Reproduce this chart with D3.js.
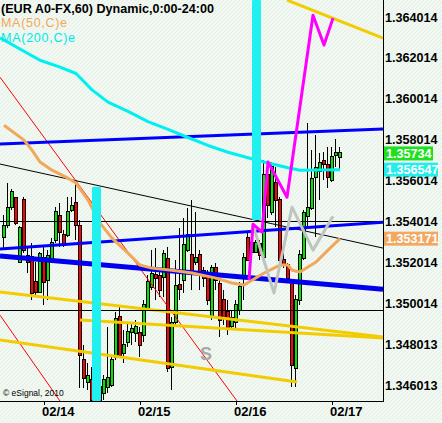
<!DOCTYPE html>
<html><head><meta charset="utf-8">
<script src="https://cdn.jsdelivr.net/npm/d3@7"></script>
<style>
html,body{margin:0;padding:0;background:#f2f8f3;}
svg{display:block;}
text{font-family:"Liberation Sans",Arial,sans-serif;}
</style></head><body>
<svg id="c" width="442" height="423"></svg>
<script>
// ---------- data ----------
const title = "(EUR A0-FX,60) Dynamic,0:00-24:00";
const firstHour = -10;           // hours relative to 02/14 00:00
const opens  = [1.35325,1.35383,1.35471,1.35515,1.35203,1.35506,1.35232,1.35227,1.35105,1.35056,1.35222,1.35114,1.35222,1.35310,1.35427,1.35335,1.35335,1.35457,1.35491,1.35379,1.34723,1.34616,1.34625,1.34528,1.34528,1.34562,1.34591,1.34601,1.34738,1.34934,1.34758,1.34811,1.34860,1.34855,1.34855,1.34846,1.34978,1.35080,1.35139,1.35134,1.35129,1.35217,1.34689,1.34909,1.35090,1.35114,1.35261,1.35237,1.35203,1.35237,1.35158,1.35124,1.34934,1.35173,1.35095,1.35017,1.34958,1.34889,1.34909,1.34968,1.35129,1.35320,1.35251,1.35251,1.35290,1.35227,1.35628,1.35447,1.35589,1.35506,1.35212,1.35188,1.35105,1.34684,1.35017,1.35222,1.35427,1.35467,1.35618,1.35648,1.35696,1.35677,1.35604,1.35736,1.35716];
const highs  = [1.35432,1.35589,1.35559,1.35520,1.35379,1.35520,1.35276,1.35295,1.35203,1.35251,1.35276,1.35261,1.35320,1.35471,1.35491,1.35359,1.35520,1.35520,1.35589,1.35408,1.34797,1.34709,1.34689,1.34645,1.34640,1.34650,1.34885,1.34748,1.34958,1.34992,1.34870,1.34909,1.34904,1.34919,1.34885,1.35017,1.35139,1.35261,1.35271,1.35163,1.35261,1.35276,1.34934,1.35212,1.35369,1.35418,1.35467,1.35506,1.35447,1.35261,1.35178,1.35163,1.35188,1.35198,1.35114,1.35066,1.35017,1.34968,1.35017,1.35105,1.35246,1.35344,1.35325,1.35310,1.35310,1.35701,1.35677,1.35692,1.35667,1.35520,1.35261,1.35198,1.35114,1.35041,1.35261,1.35457,1.35882,1.35750,1.35824,1.35736,1.35740,1.35765,1.35765,1.35804,1.35765];
const lows   = [1.35261,1.35369,1.35457,1.35383,1.35198,1.35246,1.35149,1.35017,1.35031,1.35051,1.34992,1.35017,1.35212,1.35295,1.35276,1.35276,1.35325,1.35447,1.35310,1.34586,1.34586,1.34577,1.34503,1.34503,1.34523,1.34528,1.34562,1.34591,1.34723,1.34738,1.34709,1.34787,1.34797,1.34811,1.34738,1.34811,1.34968,1.35066,1.35017,1.35031,1.35031,1.34665,1.34577,1.34894,1.35017,1.35051,1.35251,1.35066,1.35188,1.35066,1.35080,1.34992,1.34919,1.35066,1.34836,1.34894,1.34846,1.34870,1.34870,1.34943,1.35017,1.35212,1.35227,1.35246,1.35212,1.35227,1.35418,1.35432,1.35374,1.35188,1.35173,1.35100,1.34591,1.34591,1.34992,1.35212,1.35374,1.35457,1.35325,1.35506,1.35604,1.35564,1.35594,1.35667,1.35652];
const closes = [1.35379,1.35467,1.35545,1.35393,1.35369,1.35261,1.35203,1.35051,1.35056,1.35242,1.35105,1.35232,1.35295,1.35447,1.35349,1.35286,1.35447,1.35476,1.35383,1.34748,1.34635,1.34645,1.34528,1.34600,1.34591,1.34625,1.34635,1.34723,1.34924,1.34748,1.34797,1.34860,1.34875,1.34885,1.34797,1.34992,1.35105,1.35144,1.35124,1.35066,1.35242,1.34684,1.34904,1.35085,1.35070,1.35286,1.35335,1.35154,1.35222,1.35154,1.35124,1.35017,1.35173,1.35114,1.34919,1.34929,1.34885,1.34929,1.34992,1.35080,1.35222,1.35212,1.35295,1.35295,1.35237,1.35628,1.35481,1.35667,1.35506,1.35212,1.35188,1.35124,1.34699,1.35017,1.35237,1.35442,1.35467,1.35608,1.35662,1.35687,1.35682,1.35618,1.35716,1.35736,1.35734];

// moving averages, sampled [hour, value]
const ma200 = [[-11,1.36300],[-1,1.36190],[4,1.36156],[8,1.36125],[12,1.36045],[16,1.35985],[21,1.35940],[26,1.35890],[31,1.35852],[36,1.35812],[41,1.35773],[46,1.35740],[51,1.35713],[55,1.35692],[61,1.35664],[64,1.35652],[74,1.356547]];
const ma50  = [[-10,1.35872],[-5,1.35799],[-3,1.35750],[-1,1.35692],[2,1.35652],[6,1.35613],[8,1.35589],[11,1.35506],[14,1.35393],[17,1.35320],[21,1.35246],[24,1.35188],[27,1.35173],[32,1.35163],[37,1.35149],[43,1.35124],[47,1.35100],[50,1.35090],[52,1.35114],[55,1.35149],[59,1.35188],[61,1.35188],[62,1.35163],[64,1.35154],[68,1.35203],[71,1.35261],[74,1.353171]];

// drawn trend lines, endpoints [hour, price]
const yellowTop  = [[60.75,1.36484],[84.75,1.36298]];
const yellowA    = [[-11,1.35056],[84.75,1.34836]];
const yellowB    = [[9,1.34919],[84.75,1.34831]];
const yellowC    = [[-11,1.34821],[63.25,1.34616]];
const blueUpper  = [[-11,1.35780],[84.75,1.35853]];
const blueMid    = [[-11,1.35266],[84.75,1.35398]];
const blueLow    = [[-11,1.35232],[84.75,1.35070]];
const blackDesc  = [[-11,1.35682],[84.75,1.35271]];
const blackLevels = [1.35403, 1.34968];
const redA       = [[-11,1.36107],[48.25,1.34523]];
const redB       = [[-11,1.34943],[4,1.34523]];
const waveMagenta = [[51.25,1.35114],[52.25,1.35388],[54.5,1.35349],[56,1.35692],[60.75,1.35520],[67.25,1.36410],[70,1.36264],[72.25,1.36396]];
const waveGray    = [[52.25,1.35383],[57.5,1.35051],[62,1.35471],[67.25,1.35261],[72.25,1.35427]];
const cycleBars  = [{hour:13, top:1.35570, bottom:null},{hour:53, top:null, bottom:1.35408}];

// axes
const priceTicks = [1.346013,1.348013,1.350014,1.352014,1.354014,1.356014,1.358014,1.360014,1.362014,1.364014];
const priceTickLabels = ["1.346013","1.348013","1.350014","1.352014","1.354014","1.356014","1.358014","1.360014","1.362014","1.364014"];
const dayHours = [0,24,48,72];
const dayLabels = ["02/14","02/15","02/16","02/17"];
const lastLabels = [{value:1.35734,text:"1.35734",color:"#1ee01e",w:49},{value:1.356547,text:"1.356547",color:"#22eeee",w:54},{value:1.353171,text:"1.353171",color:"#f2a860",w:54}];

// ---------- drawing ----------
const svg = d3.select("#c");
const PW = 383, PH = 401;
const y = d3.scaleLinear().domain([1.346013,1.364014]).range([385,17]);
const x = d3.scaleLinear().domain([0,72]).range([44,332]);

const defs = svg.append("defs");
const pat = defs.append("pattern").attr("id","hatch").attr("width",4).attr("height",4).attr("patternUnits","userSpaceOnUse");
pat.append("rect").attr("width",4).attr("height",4).attr("fill","#f0f8f1");
pat.append("path").attr("d","M0,4 L4,0").attr("stroke","#e3eee5").attr("stroke-width",0.8);
defs.append("clipPath").attr("id","plot").append("rect").attr("width",PW).attr("height",PH);

svg.append("rect").attr("width",442).attr("height",423).attr("fill","url(#hatch)");

const g = svg.append("g").attr("clip-path","url(#plot)");
const line = d3.line().x(d=>x(d[0])).y(d=>y(d[1]));

// candles
const hours = d3.range(firstHour, firstHour+opens.length);
const candles = hours.map((h,i)=>({h,o:opens[i],hi:highs[i],lo:lows[i],c:closes[i]}));
const cg = g.append("g").attr("shape-rendering","crispEdges");
candles.forEach(d=>{
  const cx = Math.round(x(d.h));
  cg.append("rect").attr("x",cx-1).attr("width",1)
    .attr("y",y(d.hi)).attr("height",Math.max(1,y(d.lo)-y(d.hi))).attr("fill","#000");
  const top = Math.round(y(Math.max(d.o,d.c))), bot = Math.round(y(Math.min(d.o,d.c)));
  const h = Math.max(2,bot-top);
  cg.append("rect").attr("x",cx-2).attr("width",4).attr("y",top-1).attr("height",h+2).attr("fill","#000");
  cg.append("rect").attr("x",cx-1).attr("width",2).attr("y",top).attr("height",h)
    .attr("fill", d.c>=d.o ? "#00e600" : "#ff0000");
});

function drawLine(data,color,w){
  g.append("path").datum(data).attr("d",line).attr("fill","none").attr("stroke",color).attr("stroke-width",w).attr("stroke-linejoin","round");
}
drawLine(redA,"#ff0000",1);
drawLine(redB,"#ff0000",1);
drawLine(yellowTop,"#f2cc00",3);
drawLine(yellowA,"#f2cc00",3);
drawLine(yellowB,"#f2cc00",3);
drawLine(yellowC,"#f2cc00",3);
drawLine(blackDesc,"#000",1);
blackLevels.forEach(v=>{
  g.append("line").attr("x1",0).attr("x2",PW).attr("y1",Math.round(y(v))+0.5).attr("y2",Math.round(y(v))+0.5).attr("stroke","#000").attr("stroke-width",1);
});
drawLine(blueUpper,"#0000ff",3);
drawLine(blueMid,"#0000ff",3);
drawLine(blueLow,"#0000ee",5);
drawLine(ma200,"#00f0f0",3);
drawLine(ma50,"#f2a85a",3);

// cycle bars
cycleBars.forEach(b=>{
  const t = b.top===null ? 0 : y(b.top);
  const bt = b.bottom===null ? PH : y(b.bottom);
  g.append("rect").attr("x",x(b.hour)-4).attr("width",9).attr("y",t).attr("height",bt-t).attr("rx",1).attr("fill","#20f0f0");
});

drawLine(waveGray,"#c0c4c0",3);
drawLine(waveMagenta,"#ff00ff",3);

g.append("text").attr("x",200).attr("y",360).attr("font-size",18).attr("font-weight","bold").attr("fill","#a8a8a8").text("S");

// frame
svg.append("line").attr("x1",PW+0.5).attr("x2",PW+0.5).attr("y1",0).attr("y2",PH+1).attr("stroke","#000");
svg.append("line").attr("x1",0).attr("x2",PW+1).attr("y1",PH+0.5).attr("y2",PH+0.5).attr("stroke","#000");

// x axis
dayHours.forEach((h,i)=>{
  const xx = Math.round(x(h));
  svg.append("line").attr("x1",xx+0.5).attr("x2",xx+0.5).attr("y1",PH).attr("y2",PH+4).attr("stroke","#000");
  svg.append("text").attr("x",xx-2).attr("y",416).attr("font-size",13).attr("font-weight","bold").attr("fill","#000").text(dayLabels[i]);
});

// y axis labels
priceTicks.forEach((v,i)=>{
  svg.append("text").attr("x",385).attr("y",y(v)+4.5).attr("font-size",12.6).attr("font-weight","bold").attr("fill","#000").text(priceTickLabels[i]);
});
lastLabels.forEach(l=>{
  const yy = y(l.value);
  svg.append("rect").attr("x",384).attr("y",yy-7).attr("width",l.w).attr("height",14).attr("fill",l.color);
  svg.append("text").attr("x",386).attr("y",yy+4.5).attr("font-size",12.6).attr("font-weight","bold").attr("fill","#fff").text(l.text);
});

// titles
svg.append("text").attr("x",1).attr("y",13).attr("font-size",12.6).attr("font-weight","bold").attr("fill","#000").text(title);
svg.append("text").attr("x",1).attr("y",27).attr("font-size",12.5).attr("textLength",66).attr("fill","#f2a85a").text("MA(50,C)e");
svg.append("text").attr("x",1).attr("y",41.5).attr("font-size",12.5).attr("textLength",74).attr("fill","#00e8e8").text("MA(200,C)e");
svg.append("text").attr("x",3).attr("y",396).attr("font-size",8.5).attr("fill","#000").text("© eSignal, 2010");
</script>
</body></html>
